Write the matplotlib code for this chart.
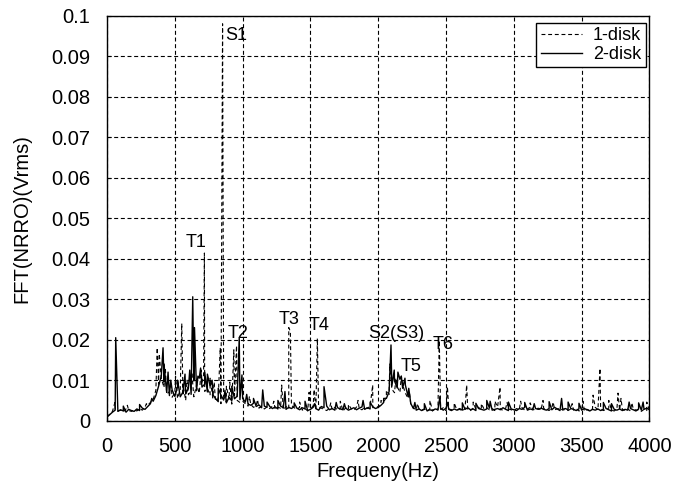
# -*- coding: utf-8 -*-
"""
FFT of NRRO signal, 1-disk vs 2-disk spindle
values read off the spectrum plot (mVrms, converted to Vrms for plotting)
"""

import numpy as np
import matplotlib
matplotlib.use("Agg")
import matplotlib.pyplot as plt

plt.rcParams['font.family'] = ['Liberation Sans', 'DejaVu Sans']

# frequency grid of the noise floor (Hz)
base_freq = np.arange(0, 4001, 20)

# noise floor, 1-disk (mVrms), one row = 200 Hz
base_1disk = [
    1.0, 1.6, 2.3, 2.8, 2.4, 2.6, 2.2, 2.9, 2.5, 2.3,
    2.7, 2.4, 3.0, 2.6, 3.3, 3.8, 4.5, 5.2, 7.5, 9.0,
    10.5, 8.2, 6.5, 7.2, 5.8, 6.9, 5.5, 7.8, 6.2, 5.0,
    6.4, 7.5, 5.9, 8.8, 6.8, 9.5, 7.2, 8.0, 6.3, 5.6,
    4.8, 5.5, 4.2, 6.0, 4.6, 5.3, 4.1, 6.2, 5.0, 4.5,
    4.8, 4.2, 3.6, 4.0, 3.3, 3.7, 3.1, 3.5, 2.9, 3.4,
    3.0, 3.6, 2.8, 3.3, 3.1, 2.7, 3.5, 2.9, 3.8, 3.2,
    2.8, 3.3, 2.6, 3.0, 2.4, 2.9, 3.6, 2.7, 3.4, 3.1,
    2.8, 2.5, 3.1, 2.7, 3.3, 2.6, 3.0, 2.4, 3.2, 2.8,
    3.0, 2.6, 3.4, 2.9, 2.7, 3.3, 3.0, 3.6, 3.2, 3.5,
    3.4, 3.9, 4.6, 5.8, 6.5, 7.8, 6.9, 8.4, 7.0, 8.9,
    6.8, 5.5, 4.0, 3.1, 2.7, 3.0, 2.6, 2.9, 2.5, 2.8,
    2.4, 3.0, 2.6, 2.8, 3.2, 2.5, 2.9, 2.7, 3.1, 2.6,
    2.8, 2.4, 3.0, 2.7, 2.5, 3.1, 2.8, 3.3, 2.6, 2.9,
    3.2, 2.7, 3.0, 2.5, 3.4, 2.8, 2.6, 3.1, 2.9, 2.7,
    2.5, 3.0, 2.7, 3.2, 2.6, 2.9, 3.3, 2.7, 2.8, 3.1,
    2.6, 3.0, 2.8, 2.5, 3.2, 2.7, 2.9, 3.1, 2.6, 2.8,
    2.5, 2.9, 2.6, 3.0, 2.4, 2.7, 2.3, 2.8, 2.5, 2.9,
    3.3, 2.7, 3.0, 2.5, 2.8, 3.1, 2.6, 2.4, 2.9, 2.6,
    2.8, 2.5, 2.9, 2.4, 3.0, 2.6, 2.7, 2.3, 2.8, 2.5,
    2.6,
]

# noise floor, 2-disk (mVrms)
base_2disk = [
    0.9, 1.5, 2.1, 2.6, 2.3, 2.7, 2.4, 2.1, 2.8, 2.5,
    2.3, 2.9, 2.5, 3.1, 2.8, 3.5, 4.2, 4.8, 6.2, 8.5,
    11.0, 9.5, 7.0, 6.2, 7.6, 6.0, 8.4, 5.9, 7.1, 6.6,
    8.0, 6.5, 9.8, 7.4, 10.5, 8.3, 9.0, 7.1, 8.6, 6.4,
    5.5, 4.7, 6.3, 5.1, 4.4, 5.8, 4.9, 5.4, 6.1, 5.2,
    5.5, 4.6, 4.1, 3.8, 4.3, 3.5, 3.9, 3.2, 3.6, 3.3,
    3.5, 3.0, 3.4, 2.9, 3.6, 3.2, 2.8, 3.3, 3.0, 3.5,
    3.1, 2.7, 3.2, 2.9, 2.5, 2.8, 3.3, 3.0, 2.6, 3.5,
    3.2, 3.6, 2.7, 3.0, 2.6, 3.2, 2.9, 2.7, 3.1, 2.6,
    2.9, 3.2, 2.7, 3.1, 3.4, 2.8, 3.2, 2.9, 3.4, 3.0,
    3.3, 3.8, 4.5, 5.5, 7.2, 8.5, 9.8, 8.1, 10.2, 8.0,
    8.8, 6.0, 4.2, 3.0, 2.6, 2.9, 2.5, 2.8, 2.4, 2.7,
    2.5, 2.9, 2.7, 3.0, 2.6, 3.1, 2.8, 2.5, 2.9, 2.6,
    3.0, 2.6, 2.8, 3.2, 2.7, 2.9, 2.5, 3.0, 2.8, 2.6,
    2.9, 3.1, 2.6, 2.8, 3.0, 2.7, 3.2, 2.8, 2.5, 2.9,
    2.7, 2.5, 3.0, 2.8, 3.3, 2.6, 2.9, 2.7, 3.0, 2.8,
    3.1, 2.8, 2.6, 3.0, 2.7, 3.3, 2.9, 2.5, 2.8, 3.0,
    2.7, 3.0, 2.8, 2.5, 2.9, 2.6, 3.0, 2.7, 2.4, 2.8,
    2.6, 2.9, 2.5, 2.8, 3.0, 2.7, 2.4, 2.8, 2.6, 2.9,
    2.5, 2.8, 2.6, 3.0, 2.7, 2.4, 2.9, 2.6, 2.8, 3.1,
    2.7,
]

# discrete peaks (Hz, mVrms)
peak_freq_1disk = [58, 370, 385, 430, 551, 560, 695, 712, 718, 760, 835, 852,
                   935, 955, 1288, 1340, 1352, 1490, 1527, 1551, 1851, 1959,
                   2085, 2130, 2170, 2381, 2450, 2510, 2652, 2898, 3215, 3584,
                   3635, 3768, 3790,
                   150, 290, 470, 505, 590, 625, 660, 790, 880, 905, 1050, 1110,
                   1230, 1420, 1650, 1720, 1780, 2020, 2060, 2230, 2290, 2560,
                   2700, 2760, 2860, 2950, 3050, 3120, 3290, 3430, 3510, 3700,
                   3870, 3980]
peak_amp_1disk = [4.5, 18.0, 16.5, 13.0, 24.0, 9.0, 12.5, 11.0, 41.4, 10.5, 18.0, 98.0,
                  17.5, 18.5, 8.8, 23.0, 22.0, 7.0, 7.7, 20.3, 5.0, 8.8,
                  14.0, 10.5, 11.0, 5.0, 19.8, 8.4, 8.8, 8.3, 5.0, 6.3,
                  12.9, 6.8, 5.5,
                  3.8, 4.2, 9.5, 11.0, 10.0, 12.0, 9.0, 9.5, 8.5, 9.5, 6.0, 5.2,
                  4.8, 4.6, 4.4, 4.8, 4.0, 5.0, 7.5, 7.0, 4.2, 4.4,
                  4.6, 4.2, 4.8, 4.5, 4.8, 4.4, 4.6, 4.2, 4.8, 5.0,
                  4.4, 4.6]

peak_freq_2disk = [64, 413, 420, 470, 632, 645, 690, 740, 975, 995, 1148, 1312,
                   1600, 1888, 2094, 2118, 2145, 2197, 2455, 2512, 2800, 2825,
                   3260, 3352, 3953,
                   120, 240, 330, 450, 520, 575, 610, 670, 720, 775, 820, 870,
                   920, 1030, 1080, 1180, 1260, 1380, 1460, 1530, 1690, 1750,
                   1940, 2040, 2170, 2225, 2270, 2340, 2620, 2720, 2960, 3080,
                   3150, 3400, 3480, 3660, 3720, 3850, 3920]
peak_amp_2disk = [20.5, 18.0, 14.0, 10.0, 30.6, 23.0, 13.0, 11.5, 20.5, 11.3, 7.6, 7.2,
                  8.4, 5.0, 18.7, 12.5, 12.0, 10.5, 6.0, 4.5, 5.0, 4.8,
                  4.7, 5.5, 4.6,
                  3.6, 4.0, 5.5, 12.0, 10.0, 11.5, 12.5, 11.0, 12.0, 10.0, 8.0, 7.5,
                  8.5, 6.5, 5.5, 4.6, 5.0, 4.4, 4.8, 4.2, 4.5, 4.2,
                  4.6, 5.5, 11.0, 8.0, 4.5, 4.2, 4.4, 4.3, 4.6, 4.5,
                  4.2, 4.6, 4.3, 4.5, 4.2, 4.6, 4.4]

# peak labels (text, Hz, Vrms)
label_text = ['S1', 'T1', 'T2', 'T3', 'T4', 'S2(S3)', 'T5', 'T6']
label_freq = [870, 582, 892, 1268, 1490, 1924, 2165, 2404]
label_amp = [0.0952, 0.044, 0.0215, 0.0251, 0.0235, 0.0215, 0.0134, 0.0188]

ytick_labels = ['0', '0.01', '0.02', '0.03', '0.04', '0.05',
                '0.06', '0.07', '0.08', '0.09', '0.1']


def merge_spectrum(base, pf, pa):
    # put the peaks in between the noise floor samples, sorted by frequency
    f = np.concatenate([base_freq, pf])
    a = np.concatenate([base, pa]) / 1000.0
    order = np.argsort(f, kind='stable')
    return f[order], a[order]


f1, a1 = merge_spectrum(base_1disk, peak_freq_1disk, peak_amp_1disk)
f2, a2 = merge_spectrum(base_2disk, peak_freq_2disk, peak_amp_2disk)

fig = plt.figure(figsize=(6.74, 4.94), dpi=100)
ax = fig.add_axes([0.1588, 0.1484, 0.8048, 0.8198])

ax.plot(f1, a1, color='black', lw=0.8, linestyle=(0, (3.5, 2.5)), label='1-disk')
ax.plot(f2, a2, color='black', lw=1.0, label='2-disk')

for t, x, y in zip(label_text, label_freq, label_amp):
    ax.text(x, y, t, fontsize=13, ha='left', va='center')

ax.set_xlim(0, 4000)
ax.set_ylim(0, 0.1)
ax.set_xticks(np.arange(0, 4001, 500))
ax.set_yticks(np.arange(0, 0.1001, 0.01))
ax.set_yticklabels(ytick_labels)
ax.tick_params(direction='in', length=3, labelsize=14.5, pad=12, color='black')

ax.grid(True, color='black', lw=0.8, linestyle=(0, (3.6, 2.4)))
ax.set_axisbelow(True)
for s in ax.spines.values():
    s.set_color('black')
    s.set_linewidth(1.0)

ax.set_xlabel('Frequeny(Hz)', fontsize=14.5)
ax.set_ylabel('FFT(NRRO)(Vrms)', fontsize=14.5)
ax.xaxis.set_label_coords(0.5, -0.103)
ax.yaxis.set_label_coords(-0.14, 0.5)

leg = ax.legend(loc='upper right', bbox_to_anchor=(0.993, 0.983), borderaxespad=0,
                fontsize=13, fancybox=False, framealpha=1, edgecolor='black',
                handlelength=2.3, handletextpad=0.6, borderpad=0.25, labelspacing=0.1)
leg.get_frame().set_linewidth(1.0)

plt.savefig('out.png', dpi=100)
